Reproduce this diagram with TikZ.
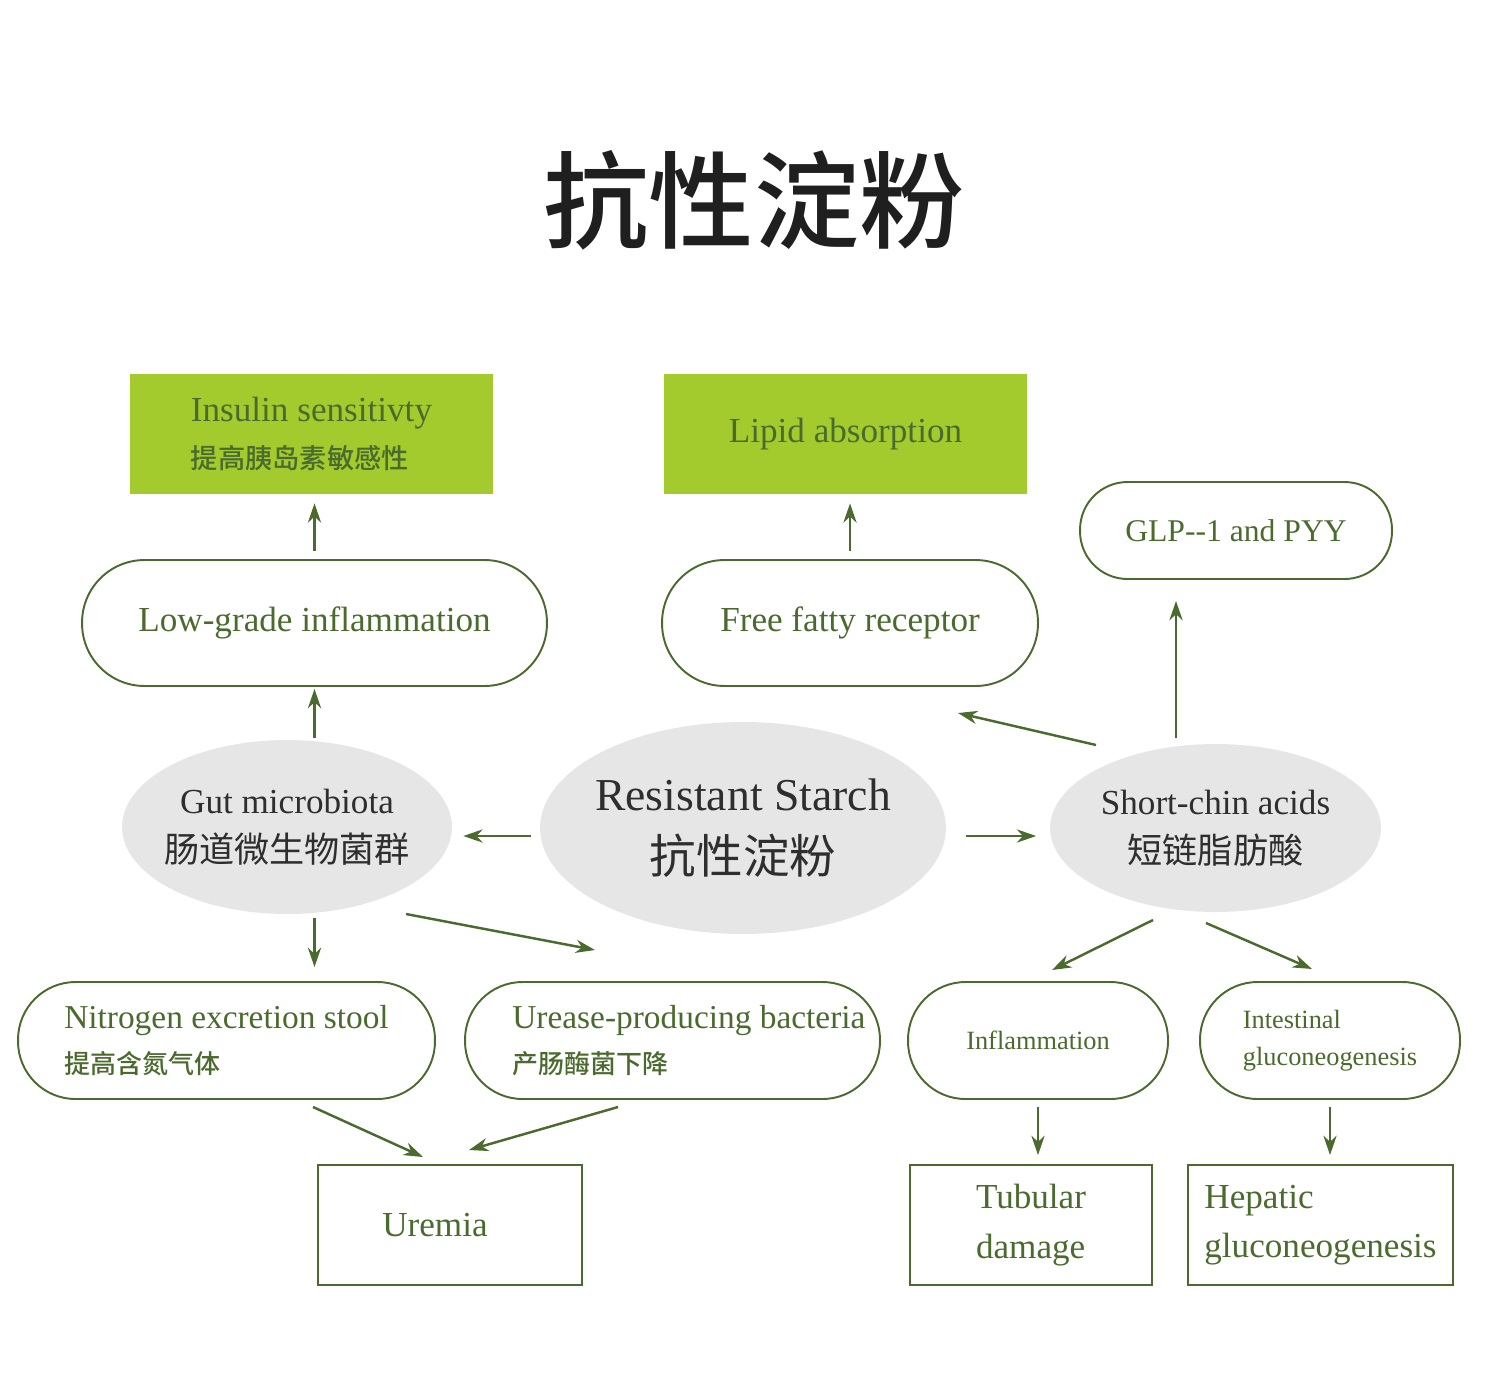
\documentclass[tikz,border=0pt]{standalone}
\usepackage{fontspec}
\setmainfont{Liberation Serif}
\newfontfamily\cjk{Noto Sans CJK SC}
\newfontfamily\cjkmid{Noto Sans CJK SC Medium}
\usepackage{tikz}
\usetikzlibrary{positioning,shapes.geometric,arrows.meta}
\definecolor{leaf}{HTML}{4B6B2E}
\definecolor{lime}{HTML}{A3CB2D}
\definecolor{mist}{HTML}{E6E6E6}
\definecolor{ink}{HTML}{2E2E2E}

\begin{document}
\begin{tikzpicture}[x=0.02cm, y=-0.02cm, every node/.style={text=leaf}]
    \tikzstyle{greenbox}=[ %
      rectangle, fill=lime,
      minimum width=7.26cm, minimum height=2.4cm,
      inner sep=0, align=left,
      font=\fontsize{20}{27}\selectfont
    ]
    \tikzstyle{pill}=[rectangle, draw=leaf, line width=1.1pt, fill=white,
      rounded corners=1.15cm, inner sep=0, align=left,
      minimum height=2.34cm, font=\fontsize{20}{26}\selectfont]
    \tikzstyle{blob}=[ellipse, fill=mist, inner sep=0, text=ink,
      align=center, font=\fontsize{20}{28}\selectfont]
    \tikzstyle{plain}=[rectangle, draw=leaf, line width=1.1pt,
      minimum height=2.4cm, inner sep=0, align=left,
      font=\fontsize{20}{28}\selectfont]
    \tikzstyle{arr}=[draw=leaf, line width=1.4pt,
      -{Stealth[length=11pt,width=7.5pt,inset=3.5pt]}]
  %  \draw[help lines] (0,0) grid[step=100] (1500,1386);
    \useasboundingbox (0,0) rectangle (1500,1386);
    \node (title) at (754,200) [text=black!88,
          font=\cjkmid\fontsize{60}{60}\selectfont] {抗性淀粉};

    % top row
    \path (311.5,434) node(ins) [greenbox]
                {Insulin sensitivty\\{\cjkmid\fontsize{15.5}{15.5}\selectfont 提高胰岛素敏感性}}
          (845.5,434) node(lipid) [greenbox] {Lipid absorption}
          (1236,530.5) node(glp) [pill, minimum width=6.24cm,
                minimum height=1.94cm, rounded corners=0.95cm,
                font=\fontsize{18}{24}\selectfont] {GLP{-}{-}1 and PYY};

    \path (314.5,623) node(low) [pill, minimum width=9.3cm,
                minimum height=2.52cm, rounded corners=1.25cm] {Low-grade inflammation}
          (850,623) node(ffr) [pill, minimum width=7.52cm,
                minimum height=2.52cm, rounded corners=1.25cm] {Free fatty receptor};

    % middle row
    \path (287,827) node(gut) [blob, minimum width=6.6cm, minimum height=3.48cm,
                inner xsep=-0.16cm]
                {Gut microbiota\\{\cjk\fontsize{20}{20}\selectfont 肠道微生物菌群}}
          (743,828) node(rs) [blob, minimum width=8.12cm, minimum height=4.24cm,
                inner xsep=-0.09cm, font=\fontsize{26}{36}\selectfont]
                {Resistant Starch\\{\cjk\fontsize{26.5}{26.5}\selectfont 抗性淀粉}}
          (1215.5,828) node(scfa) [blob, minimum width=6.62cm, minimum height=3.36cm]
                {Short-chin acids\\{\cjk\fontsize{20}{20}\selectfont 短链脂肪酸}};

    % lower row
    \path (226.5,1040.5) node(nit) [pill, minimum width=8.34cm,
                font=\fontsize{19}{26}\selectfont]
                {Nitrogen excretion stool\\{\cjkmid\fontsize{14.8}{14.8}\selectfont 提高含氮气体}}
          (672.5,1040.5) node(ure) [pill, minimum width=8.3cm] {}
          (512,1040.5) node(ure-t) [anchor=west, inner sep=0, align=left,
                font=\fontsize{19}{26}\selectfont]
                {Urease-producing bacteria\\{\cjkmid\fontsize{14.8}{14.8}\selectfont 产肠酶菌下降}}
          (1038,1040.5) node(infl) [pill, minimum width=5.2cm,
                font=\fontsize{15}{21}\selectfont] {Inflammation}
          (1330,1040.5) node(intg) [pill, minimum width=5.2cm,
                font=\fontsize{15}{21}\selectfont] {Intestinal\\gluconeogenesis};

    % bottom row
    \path (450,1225) node(urem) [plain, minimum width=5.28cm] {Uremia\hspace*{0.6cm}}
          (1031,1225) node(tub) [plain, minimum width=4.84cm] {Tubular\\damage}
          (1320.5,1225) node(hep) [plain, minimum width=5.3cm] {Hepatic\\gluconeogenesis};

    % free ends
    \coordinate (s2f-a) at (1096,745);
    \coordinate (s2f-b) at (958,713);
    \coordinate (up1) at (1176,738);
    \coordinate (g2u-a) at (406,914);
    \coordinate (g2u-b) at (595,950);
    \coordinate (s2i-a) at (1153,920);
    \coordinate (s2i-b) at (1052,970);
    \coordinate (s2g-a) at (1206,923);
    \coordinate (s2g-b) at (1312,969);
    \coordinate (n2u-a) at (313,1107);
    \coordinate (n2u-b) at (423,1157);
    \coordinate (r2u-a) at (618,1107);
    \coordinate (r2u-b) at (469,1150);

    % arrows
    \draw[arr, shorten <=0.16cm, shorten >=0.18cm] (low.north) -- (low.north |- ins.south);
    \draw[arr, shorten <=0.04cm, shorten >=0.04cm] (low.south |- gut.north) -- (low.south);
    \draw[arr, shorten <=0.16cm, shorten >=0.18cm] (ffr.north) -- (ffr.north |- lipid.south);
    \draw[arr, shorten <=0.18cm, shorten >=0.22cm] (rs.west |- 0,836) -- (gut.east |- 0,836);
    \draw[arr, shorten <=0.4cm, shorten >=0.27cm] (rs.east |- 0,836) -- (scfa.west |- 0,836);
    \draw[arr] (s2f-a) -- (s2f-b);
    \draw[arr, shorten >=0.42cm] (up1) -- (up1 |- glp.south);
    \draw[arr, shorten <=0.08cm, shorten >=0.28cm] (low.south |- gut.south) -- (low.south |- nit.north);
    \draw[arr] (g2u-a) -- (g2u-b);
    \draw[arr] (s2i-a) -- (s2i-b);
    \draw[arr] (s2g-a) -- (s2g-b);
    \draw[arr] (n2u-a) -- (n2u-b);
    \draw[arr] (r2u-a) -- (r2u-b);
    \draw[arr, shorten <=0.14cm, shorten >=0.18cm] (infl.south) -- (infl.south |- tub.north);
    \draw[arr, shorten <=0.14cm, shorten >=0.18cm] (intg.south) -- (intg.south |- hep.north);
\end{tikzpicture}
\end{document}
